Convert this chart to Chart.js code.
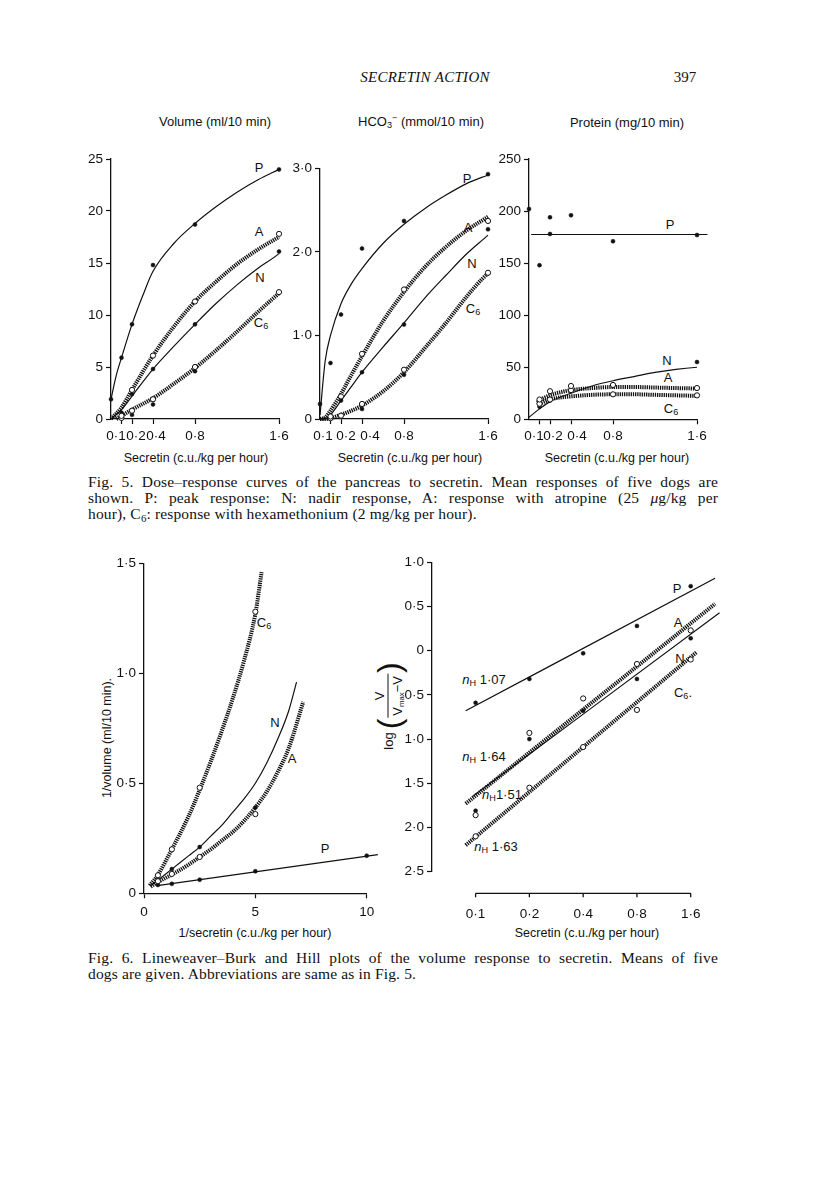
<!DOCTYPE html>
<html><head><meta charset="utf-8">
<script src="https://cdn.jsdelivr.net/npm/chart.js@4.4.1/dist/chart.umd.min.js"></script>
<style>
body{margin:0;background:#fff;}
#page{position:relative;width:816px;height:1181px;overflow:hidden;font-family:"Liberation Sans",Arial,sans-serif;color:#111;background:#fff;}
canvas{position:absolute;}
.t{position:absolute;white-space:nowrap;transform:translate(-50%,-50%);}
.lab{font-size:13px;}
.ttl{font-size:13px;}
.xt{font-size:12.5px;}
.cap{position:absolute;left:88px;width:630px;font-family:"Liberation Serif","Times New Roman",serif;font-size:15.5px;letter-spacing:0.15px;line-height:16px;color:#111;}
.cap div{text-align:justify;text-align-last:justify;}
.cap div.last{text-align-last:left;}
sub{font-size:70%;vertical-align:-0.3em;line-height:0;}
sup{font-size:70%;vertical-align:0.5em;line-height:0;}
</style></head>
<body><div id="page">
<div class="t" style="left:425px;top:77px;font-family:'Liberation Serif',serif;font-style:italic;font-size:15px;letter-spacing:0.3px;">SECRETIN ACTION</div>
<div class="t" style="left:685px;top:77px;font-family:'Liberation Serif',serif;font-size:15px;">397</div>

<div class="t ttl" style="left:215px;top:121px;">Volume (ml/10 min)</div>
<div class="t ttl" style="left:421px;top:121px;">HCO<sub>3</sub><sup>−</sup> (mmol/10 min)</div>
<div class="t ttl" style="left:627px;top:122px;">Protein (mg/10 min)</div>

<div class="t xt" style="left:196px;top:458px;">Secretin (c.u./kg per hour)</div>
<div class="t xt" style="left:410px;top:458px;">Secretin (c.u./kg per hour)</div>
<div class="t xt" style="left:617px;top:458px;">Secretin (c.u./kg per hour)</div>

<!-- curve labels fig 5 -->
<div class="t lab" style="left:259px;top:167px;">P</div>
<div class="t lab" style="left:259px;top:231px;">A</div>
<div class="t lab" style="left:260px;top:277px;">N</div>
<div class="t lab" style="left:261px;top:322px;">C<sub>6</sub></div>
<div class="t lab" style="left:467px;top:178px;">P</div>
<div class="t lab" style="left:468px;top:227px;">A</div>
<div class="t lab" style="left:472px;top:263px;">N</div>
<div class="t lab" style="left:473px;top:308px;">C<sub>6</sub></div>
<div class="t lab" style="left:670px;top:224px;">P</div>
<div class="t lab" style="left:667px;top:360px;">N</div>
<div class="t lab" style="left:668px;top:377px;">A</div>
<div class="t lab" style="left:671px;top:408px;">C<sub>6</sub></div>

<div class="cap" style="top:474px;">
<div>Fig. 5. Dose–response curves of the pancreas to secretin. Mean responses of five dogs are</div>
<div>shown. P: peak response: N: nadir response, A: response with atropine (25 <i>μ</i>g/kg per</div>
<div class="last">hour), C<sub>6</sub>: response with hexamethonium (2 mg/kg per hour).</div>
</div>

<!-- fig 6 texts -->
<div class="t xt" style="left:107px;top:738px;transform:translate(-50%,-50%) rotate(-90deg);font-size:12.5px;">1/volume (ml/10 min).</div>
<div class="t xt" style="left:255px;top:933px;">1/secretin (c.u./kg per hour)</div>
<div class="t xt" style="left:587px;top:933px;">Secretin (c.u./kg per hour)</div>
<div class="t lab" style="left:264px;top:622px;">C<sub>6</sub></div>
<div class="t lab" style="left:275px;top:722px;">N</div>
<div class="t lab" style="left:292px;top:758px;">A</div>
<div class="t lab" style="left:325px;top:848px;">P</div>

<div class="t lab" style="left:677px;top:588px;">P</div>
<div class="t lab" style="left:678px;top:622px;">A</div>
<div class="t lab" style="left:680px;top:658px;">N</div>
<div class="t lab" style="left:683px;top:692px;">C<sub>6</sub>.</div>
<div class="t lab" style="left:484px;top:679px;"><i>n</i><sub>H</sub> 1·07</div>
<div class="t lab" style="left:484px;top:756px;"><i>n</i><sub>H</sub> 1·64</div>
<div class="t lab" style="left:502px;top:794px;"><i>n</i><sub>H</sub>1·51</div>
<div class="t lab" style="left:496px;top:846px;"><i>n</i><sub>H</sub> 1·63</div>

<div class="t" style="left:388px;top:706px;transform:translate(-50%,-50%) rotate(-90deg);font-size:13px;display:flex;align-items:center;">
 <span>log</span><span style="font-size:32px;font-weight:200;margin:0 1px 0 3px;line-height:1;">(</span>
 <span style="display:inline-flex;flex-direction:column;align-items:center;">
  <span style="padding:0 2px 1px 2px;">V</span>
  <span style="border-top:1.2px solid #111;padding:1px 2px 0 2px;">V<sub style="font-size:60%;">max</sub>−V</span>
 </span><span style="font-size:32px;font-weight:200;margin-left:1px;line-height:1;">)</span>
</div>

<div class="cap" style="top:950px;">
<div>Fig. 6. Lineweaver–Burk and Hill plots of the volume response to secretin. Means of five</div>
<div class="last">dogs are given. Abbreviations are same as in Fig. 5.</div>
</div>
</div>
<script>
// ---------------- DATA ----------------
// Fig. 5 doses (c.u./kg per hour)
const doses = [0.1, 0.2, 0.4, 0.8, 1.6];
const dosesWithZero = [0, 0.1, 0.2, 0.4, 0.8, 1.6];
const doseTickLabels = ['0·1', '0·2', '0·4', '0·8', '1·6'];

// Volume (ml/10 min)
const volTicks = [0, 5, 10, 15, 20, 25];
const volTickLabels = ['0', '5', '10', '15', '20', '25'];
const volP = [1.9, 5.9, 9.1, 14.8, 18.7, 24.0];
const volA = [0.3, 2.8, 6.1, 11.3, 17.8];
const volN = [0.6, 2.4, 4.8, 9.1, 16.1];
const volC6 = [0.1, 0.8, 1.9, 5.0, 12.2];
const volExtraX = [0.2, 0.4, 0.8];
const volExtra = [0.4, 1.4, 4.6];
const volCurvePX = [0, 0.05, 0.1, 0.2, 0.3, 0.4, 0.6, 0.8, 1.0, 1.2, 1.4, 1.6, 1.66];
const volCurveP = [1.9, 4.2, 5.9, 9.1, 11.8, 14.2, 16.9, 18.8, 20.4, 21.8, 23.0, 24.0, 24.3];
const volCurveX = [0, 0.1, 0.2, 0.4, 0.6, 0.8, 1.0, 1.2, 1.4, 1.6, 1.67];
const volCurveA = [0, 1.1, 2.8, 6.1, 8.9, 11.3, 13.2, 14.9, 16.3, 17.5, 17.9];
const volCurveN = [0, 0.9, 2.2, 4.8, 7.0, 9.1, 11.1, 12.9, 14.5, 15.9, 16.6];
const volCurveC6X = [0.05, 0.1, 0.2, 0.4, 0.6, 0.8, 1.0, 1.2, 1.4, 1.6];
const volCurveC6 = [0, 0.3, 0.9, 2.0, 3.4, 4.9, 6.6, 8.4, 10.3, 12.1];

// HCO3- (mmol/10 min)
const hcoTicks = [0, 1, 2, 3];
const hcoTickLabels = ['0', '1·0', '2·0', '3·0'];
const hcoP = [0.18, 0.67, 1.25, 2.04, 2.37, 2.93];
const hcoA = [0.03, 0.27, 0.78, 1.55, 2.37];
const hcoN = [0.02, 0.22, 0.56, 1.13, 2.27];
const hcoC6 = [0.01, 0.04, 0.18, 0.59, 1.75];
const hcoExtraX = [0.4, 0.8];
const hcoExtra = [0.12, 0.53];
const hcoCurveX = [0, 0.05, 0.1, 0.2, 0.3, 0.4, 0.6, 0.8, 1.0, 1.2, 1.4, 1.6, 1.66];
const hcoCurveP = [0.05, 0.7, 1.0, 1.38, 1.62, 1.8, 2.1, 2.33, 2.52, 2.68, 2.82, 2.92, 2.95];
const hcoCurveA = [0, 0.02, 0.1, 0.3, 0.53, 0.75, 1.17, 1.52, 1.82, 2.06, 2.26, 2.42, 2.47];
const hcoCurveN = [0, 0, 0.05, 0.22, 0.39, 0.56, 0.86, 1.15, 1.45, 1.72, 1.98, 2.2, 2.27];
const hcoCurveC6 = [0, 0, 0.01, 0.05, 0.1, 0.16, 0.33, 0.56, 0.85, 1.15, 1.47, 1.74, 1.78];

// Protein (mg/10 min)
const proTicks = [0, 50, 100, 150, 200, 250];
const proTickLabels = ['0', '50', '100', '150', '200', '250'];
const proPX = [0, 0.1, 0.2, 0.2, 0.4, 0.8, 1.6];
const proP = [202, 148, 194, 178, 196, 171, 177];
const proPLineX = [0.02, 1.7];
const proPLine = [177.5, 177.5];
const proN = [12, 18, 27, 32, 55];
const proA = [19, 27, 32, 33, 30];
const proC6 = [15, 19, 28, 24, 23];
const proCurveNX = [0, 0.1, 0.2, 0.4, 0.6, 0.8, 1.0, 1.2, 1.4, 1.6, 1.78];
const proCurveN = [2, 10, 17, 25, 32, 37, 41, 45, 48, 50, 51];
const proCurveX = [0.08, 0.1, 0.2, 0.3, 0.4, 0.6, 0.8, 1.0, 1.2, 1.4, 1.6, 1.7];
const proCurveA = [16, 18, 23, 26, 28, 30, 31, 31, 30.5, 30, 29.5, 29];
const proCurveC6 = [14, 15, 19, 21, 22, 23.5, 24, 24, 23.5, 23, 22.5, 22];

// Fig. 6 Lineweaver-Burk
const lbTicksY = [0, 0.5, 1.0, 1.5];
const lbTickLabelsY = ['0', '0·5', '1·0', '1·5'];
const lbTicksX = [0, 5, 10];
const lbTickLabelsX = ['0', '5', '10'];
const recipDose = [0.625, 1.25, 2.5, 5, 10];
const lbP = [0.038, 0.043, 0.062, 0.10, 0.171];
const lbN = [0.06, 0.11, 0.21, 0.39];
const lbA = [0.055, 0.088, 0.165, 0.36];
const lbC6 = [0.082, 0.2, 0.48, 1.28];
const lbLinePX = [0.6, 10.5];
const lbLineP = [0.035, 0.176];
const lbCurveNX = [0.3, 0.6, 1.25, 2, 2.5, 3, 3.5, 4, 4.5, 5, 5.5, 6, 6.5, 6.85];
const lbCurveN = [0.035, 0.058, 0.11, 0.17, 0.21, 0.26, 0.31, 0.37, 0.43, 0.5, 0.59, 0.7, 0.83, 0.96];
const lbCurveAX = [0.3, 0.6, 1.25, 2, 2.5, 3, 3.5, 4, 4.5, 5, 5.5, 6, 6.5, 7.15];
const lbCurveA = [0.03, 0.05, 0.085, 0.13, 0.165, 0.2, 0.24, 0.28, 0.33, 0.39, 0.46, 0.55, 0.66, 0.87];
const lbCurveC6X = [0.25, 0.6, 1.25, 2, 2.5, 3, 3.5, 4, 4.5, 5, 5.28];
const lbCurveC6 = [0.035, 0.08, 0.2, 0.35, 0.47, 0.6, 0.74, 0.89, 1.06, 1.27, 1.46];

// Fig. 6 Hill plot
const hillTicksY = [-2.5, -2.0, -1.5, -1.0, -0.5, 0, 0.5, 1.0];
const hillTickLabelsY = ['2·5', '2·0', '1·5', '1·0', '0·5', '0', '0·5', '1·0'];
const hillP = [-0.59, -0.32, -0.03, 0.28, 0.73];
const hillA = [-1.86, -0.93, -0.54, -0.15, 0.23];
const hillN = [-1.81, -1.0, -0.68, -0.32, 0.14];
const hillC6 = [-2.1, -1.55, -1.09, -0.67, -0.1];
const hillLinePX = [0.088, 2.19];  const hillLineP = [-0.68, 0.82];
const hillLineAX = [0.088, 2.19];  const hillLineA = [-1.73, 0.53];
const hillLineNX = [0.096, 2.32];  const hillLineN = [-1.65, 0.43];
const hillLineC6X = [0.088, 1.72]; const hillLineC6 = [-2.2, -0.02];

// ---------------- HELPERS ----------------
const INK = '#111';
const FONT = '"Liberation Sans", Arial, sans-serif';
const xy = (xs, ys) => ys.map((y, i) => ({x: xs[i], y}));
function solid(xs, ys) {
  return {data: xy(xs, ys), showLine: true, borderColor: INK, borderWidth: 1.2, pointRadius: 0,
    cubicInterpolationMode: 'monotone', clip: false, order: 5};
}
function beaded(xs, ys) {
  return {data: xy(xs, ys), showLine: true, borderColor: INK, borderWidth: 4, borderDash: [1.3, 0.9],
    borderCapStyle: 'butt', pointRadius: 0, cubicInterpolationMode: 'monotone', clip: false, order: 5};
}
function dots(xs, ys) {
  return {data: xy(xs, ys), showLine: false, pointRadius: 2, backgroundColor: INK, borderColor: INK,
    borderWidth: 0.5, clip: false, order: 1};
}
function rings(xs, ys) {
  return {data: xy(xs, ys), showLine: false, pointRadius: 2.6, backgroundColor: '#fff', borderColor: INK,
    borderWidth: 1, clip: false, order: 0};
}
function axis(type, min, max, ticks, labels, extra) {
  const a = {
    type, min, max, bounds: 'data',
    afterBuildTicks: s => { s.ticks = ticks.map(v => ({value: v})); },
    ticks: {autoSkip: false, maxRotation: 0, minRotation: 0, color: INK, padding: 3,
      font: {family: FONT, size: 13.5}, callback: (v, i) => labels[i]},
    grid: {drawOnChartArea: false, drawTicks: true, tickLength: 5, tickColor: INK, color: INK, tickWidth: 1.2},
    border: {display: true, color: INK, width: 1.3}
  };
  return Object.assign(a, extra || {});
}
// draws crowded dose tick labels under Fig. 5 x axes
const xlabPlugin = {
  id: 'xlab',
  afterDraw(chart, args, o) {
    if (!o || !o.labels) return;
    const xs = chart.scales.x, ctx = chart.ctx;
    ctx.save();
    ctx.fillStyle = INK; ctx.font = '13.5px ' + FONT; ctx.textAlign = 'center'; ctx.textBaseline = 'middle';
    o.values.forEach((v, i) => {
      ctx.fillText(o.labels[i], xs.getPixelForValue(v) + o.nudge[i], chart.chartArea.bottom + o.dy);
    });
    ctx.restore();
  }
};
// detached x axis of the Hill plot
const hillAxisPlugin = {
  id: 'hillAxis',
  afterDraw(chart, args, o) {
    if (!o || !o.values) return;
    const xs = chart.scales.x, ctx = chart.ctx;
    const y = chart.chartArea.bottom + o.dy;
    const x0 = xs.getPixelForValue(o.values[0]), x1 = xs.getPixelForValue(o.values[o.values.length - 1]);
    ctx.save();
    ctx.strokeStyle = INK; ctx.lineWidth = 1.3;
    ctx.beginPath(); ctx.moveTo(x0, y); ctx.lineTo(x1, y);
    o.values.forEach(v => { const px = xs.getPixelForValue(v); ctx.moveTo(px, y); ctx.lineTo(px, y + 4); });
    ctx.stroke(); ctx.restore();
  }
};
const page = document.getElementById('page');
function makeChart(box, area, scales, datasets, plug) {
  const cv = document.createElement('canvas');
  cv.width = box.w; cv.height = box.h;
  cv.style.left = box.l + 'px'; cv.style.top = box.t + 'px';
  cv.style.width = box.w + 'px'; cv.style.height = box.h + 'px';
  page.appendChild(cv);
  const yw = area.x0 - box.l, xh = box.t + box.h - area.y1;
  scales.x.afterFit = s => { s.height = xh; };
  scales.y.afterFit = s => { s.width = yw; };
  return new Chart(cv, {
    type: 'scatter',
    data: {datasets},
    options: {
      responsive: false, animation: false, devicePixelRatio: 1,
      layout: {padding: {top: area.y0 - box.t, right: box.l + box.w - area.x1, left: 0, bottom: 0}},
      plugins: Object.assign({legend: {display: false}, tooltip: {enabled: false}, xlab: false, hillAxis: false}, plug || {}),
      scales
    },
    plugins: [xlabPlugin, hillAxisPlugin]
  });
}
function doseAxis() {
  return axis('linear', 0, 1.6, doses, doseTickLabels, {});
}
function hideLabels(a) { a.ticks.display = false; return a; }

// ---------------- FIG 5 ----------------
makeChart({l: 55, t: 140, w: 245, h: 312}, {x0: 111, x1: 279, y0: 159, y1: 419},
  {x: hideLabels(doseAxis()), y: axis('linear', 0, 25, volTicks, volTickLabels)},
  [
    rings(doses, volA), rings(doses, volC6), dots(dosesWithZero, volP), dots(doses, volN), dots(volExtraX, volExtra),
    solid(volCurvePX, volCurveP), beaded(volCurveX, volCurveA), solid(volCurveX, volCurveN), beaded(volCurveC6X, volCurveC6)
  ],
  {xlab: {values: doses, labels: doseTickLabels, nudge: [-5.5, 4, 3, 0, 0], dy: 17}});

makeChart({l: 275, t: 140, w: 230, h: 312}, {x0: 320, x1: 488, y0: 168.3, y1: 419},
  {x: hideLabels(doseAxis()), y: axis('linear', 0, 3, hcoTicks, hcoTickLabels)},
  [
    rings(doses, hcoA), rings(doses, hcoC6), dots(dosesWithZero, hcoP), dots(doses, hcoN), dots(hcoExtraX, hcoExtra),
    solid(hcoCurveX, hcoCurveP), beaded(hcoCurveX, hcoCurveA), solid(hcoCurveX, hcoCurveN), beaded(hcoCurveX, hcoCurveC6)
  ],
  {xlab: {values: doses, labels: doseTickLabels, nudge: [-7.5, 5, 8, 0, 0], dy: 17}});

makeChart({l: 485, t: 140, w: 240, h: 312}, {x0: 529, x1: 697, y0: 159, y1: 419.3},
  {x: hideLabels(doseAxis()), y: axis('linear', 0, 250, proTicks, proTickLabels)},
  [
    rings(doses, proA), rings(doses, proC6), dots(proPX, proP), dots(doses, proN),
    solid(proPLineX, proPLine), solid(proCurveNX, proCurveN), beaded(proCurveX, proCurveA), beaded(proCurveX, proCurveC6)
  ],
  {xlab: {values: doses, labels: doseTickLabels, nudge: [-5.5, 3, 6, 0, 0], dy: 17}});

// ---------------- FIG 6 ----------------
const lbX = axis('linear', 0, 10, lbTicksX, lbTickLabelsX);
lbX.ticks.padding = 6;
makeChart({l: 95, t: 545, w: 300, h: 380}, {x0: 144, x1: 366.7, y0: 563.3, y1: 893.3},
  {x: lbX, y: axis('linear', 0, 1.5, lbTicksY, lbTickLabelsY)},
  [
    dots(recipDose, lbP), dots(recipDose, lbN), rings(recipDose, lbA), rings(recipDose, lbC6),
    solid(lbLinePX, lbLineP), solid(lbCurveNX, lbCurveN), beaded(lbCurveAX, lbCurveA), beaded(lbCurveC6X, lbCurveC6)
  ]);

const hillX = axis('logarithmic', 0.057, 2.38, doses, doseTickLabels);
hillX.border = {display: false};
hillX.grid = {display: false, drawTicks: false, drawOnChartArea: false};
hillX.ticks.padding = 34;
makeChart({l: 400, t: 545, w: 335, h: 385}, {x0: 432, x1: 730, y0: 562.3, y1: 871.7},
  {x: hillX, y: axis('linear', -2.5, 1.0, hillTicksY, hillTickLabelsY)},
  [
    dots(doses, hillP), rings(doses, hillA), dots(doses, hillN), rings(doses, hillC6),
    solid(hillLinePX, hillLineP), beaded(hillLineAX, hillLineA), solid(hillLineNX, hillLineN), beaded(hillLineC6X, hillLineC6)
  ],
  {hillAxis: {values: doses, dy: 21.6}});
</script>
</body></html>
